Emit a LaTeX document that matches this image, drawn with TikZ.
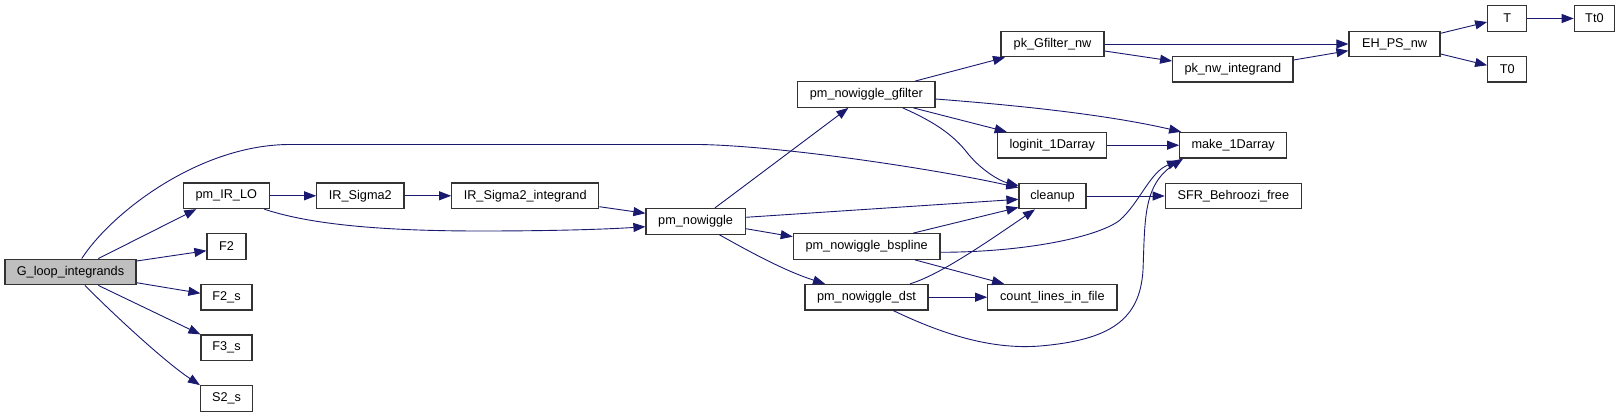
\documentclass[tikz,border=0pt]{standalone}
\usepackage{fontspec}
\setmainfont{Liberation Sans}
\usetikzlibrary{arrows.meta}
\definecolor{edgeblue}{HTML}{191970}
\definecolor{nodegray}{HTML}{BFBFBF}
\definecolor{nodeborder}{HTML}{333333}
\tikzset{
  fnbox/.style={draw=nodeborder, line width=1.2pt, fill=white, inner sep=0pt,
    minimum height=25.6pt, font=\fontsize{12.7}{14}\selectfont, text=black},
  rootbox/.style={fnbox, fill=nodegray},
  edge/.style={draw=edgeblue, line width=0.9pt,
    -{Triangle[length=12pt,width=9pt]}, fill=none},
}
\newcommand{\fn}[6][fnbox]{\node[#1, minimum width={#4-#3}] (#2) at ({(#3+#4)/2},#5) {#6};}
\begin{document}
\begin{tikzpicture}[x=1pt,y=-1pt]
\useasboundingbox (0,0) rectangle (1621,417);
% nodes
\fn[rootbox]{G}{5}{136}{272}{G\_loop\_integrands}
\fn{pmIRLO}{183.3}{269.3}{195.8}{pm\_IR\_LO}
\fn{F2}{207}{246}{246.5}{F2}
\fn{F2s}{201}{252}{297.2}{F2\_s}
\fn{F3s}{201}{252}{347.8}{F3\_s}
\fn{S2s}{200.5}{252.5}{398.5}{S2\_s}
\fn{IRS2}{316.7}{404}{195.8}{IR\_Sigma2}
\fn{IRSI}{451.7}{598.7}{195.8}{IR\_Sigma2\_integrand}
\fn{pmnw}{646}{745.3}{221.3}{pm\_nowiggle}
\fn{gfilter}{797.7}{935}{94.5}{pm\_nowiggle\_gfilter}
\fn{bspline}{793.3}{940}{246.5}{pm\_nowiggle\_bspline}
\fn{dst}{805}{928}{297.2}{pm\_nowiggle\_dst}
\fn{pkG}{1001}{1104}{44}{pk\_Gfilter\_nw}
\fn{pknwi}{1172.7}{1293}{69.3}{pk\_nw\_integrand}
\fn{loginit}{997.7}{1106.7}{145.2}{loginit\_1Darray}
\fn{make}{1179.7}{1286.7}{145.2}{make\_1Darray}
\fn{cleanup}{1019}{1086}{196}{cleanup}
\fn{SFR}{1165.3}{1301.3}{196}{SFR\_Behroozi\_free}
\fn{count}{987.7}{1117}{297.2}{count\_lines\_in\_file}
\fn{EH}{1349}{1440}{44}{EH\_PS\_nw}
\fn{T}{1487.7}{1526.7}{18.5}{T}
\fn{Tt0}{1574.3}{1614.5}{18.5}{Tt0}
\fn{T0}{1487.7}{1526.7}{69.3}{T0}
% edges from G_loop_integrands
\draw[edge] ([xshift=27.8pt]G.north) -- ([xshift=-30pt]pmIRLO.south);
\draw[edge] ([yshift=11pt]G.east) -- ([yshift=-4.2pt]F2.west);
\draw[edge] ([yshift=-10.7pt]G.east) -- ([yshift=3.9pt]F2s.west);
\draw[edge] ([xshift=27.8pt]G.south) -- (F3s.north west);
\draw[edge] ([xshift=14.5pt]G.south) .. controls (112,313) and (165,362) .. (S2s.north west);
\draw[edge] ([xshift=11.2pt]G.north) .. controls (112,212) and (200,144.5) .. (290,144.5)
  -- (700,144.5) .. controls (780,146) and (930,168) .. ([yshift=-5pt]cleanup.north west);
% pm_IR_LO chain
\draw[edge] (pmIRLO.east) -- (IRS2.west);
\draw[edge] ([xshift=38pt]pmIRLO.south) .. controls (300,221) and (360,231) .. (480,231)
  .. controls (560,231) and (610,229) .. ([yshift=-5.4pt]pmnw.west);
\draw[edge] (IRS2.east) -- (IRSI.west);
\draw[edge] ([yshift=-10.9pt]IRSI.east) -- ([yshift=8pt]pmnw.west);
% pm_nowiggle
\draw[edge] ([xshift=19.3pt]pmnw.north) -- ([xshift=-18pt]gfilter.south);
\draw[edge] ([yshift=4pt]pmnw.east) -- ([yshift=-3.3pt]cleanup.west);
\draw[edge] ([yshift=-7.4pt]pmnw.east) -- ([yshift=9.8pt]bspline.west);
\draw[edge] ([xshift=23.6pt]pmnw.south) .. controls (750,252) and (785,271) .. ([xshift=-41.5pt]dst.north);
% gfilter
\draw[edge] ([xshift=48.7pt]gfilter.north) -- ([xshift=-47.5pt]pkG.south);
\draw[edge] ([yshift=-4.5pt]gfilter.east) .. controls (1000,104) and (1100,113) .. ([xshift=2pt]make.north west);
\draw[edge] ([xshift=47pt]gfilter.south) -- ([xshift=-45.5pt]loginit.north);
\draw[edge] ([xshift=36.4pt]gfilter.south) .. controls (930,120) and (950,132) .. (965,150)
  .. controls (980,170) and (1000,181) .. ([yshift=-3pt]cleanup.north west);
% pk chain
\draw[edge] (pkG.east) -- (EH.west);
\draw[edge] ([yshift=-7pt]pkG.east) -- ([yshift=8.3pt]pknwi.west);
\draw[edge] ([yshift=9.3pt]pknwi.east) -- ([yshift=-6.7pt]EH.west);
\draw[edge] ([yshift=10.7pt]EH.east) -- ([yshift=-3.5pt]T.west);
\draw[edge] ([yshift=-10pt]EH.east) -- ([yshift=4pt]T0.west);
\draw[edge] (T.east) -- (Tt0.west);
\draw[edge] (loginit.east) -- (make.west);
\draw[edge] (cleanup.east) -- (SFR.west);
% bspline
\draw[edge] ([xshift=46.6pt]bspline.north) -- ([yshift=2pt]cleanup.south west);
\draw[edge] ([yshift=-5.8pt]bspline.east) .. controls (1030,252) and (1100,236) .. (1120,220)
  .. controls (1140,202) and (1150,172) .. ([yshift=-2pt]make.south west);
\draw[edge] ([xshift=48.3pt]bspline.south) -- ([xshift=-48.3pt]count.north);
% dst
\draw[edge] ([xshift=43.5pt]dst.north) .. controls (940,275) and (990,240) .. ([xshift=-17.5pt]cleanup.south);
\draw[edge] (dst.east) -- (count.west);
\draw[edge] ([xshift=26.8pt]dst.south) .. controls (940,333) and (990,350) .. (1040,346)
  .. controls (1110,340) and (1140,320) .. (1143,270)
  .. controls (1145,220) and (1143,185) .. ([xshift=4pt]make.south west);
\end{tikzpicture}
\end{document}
